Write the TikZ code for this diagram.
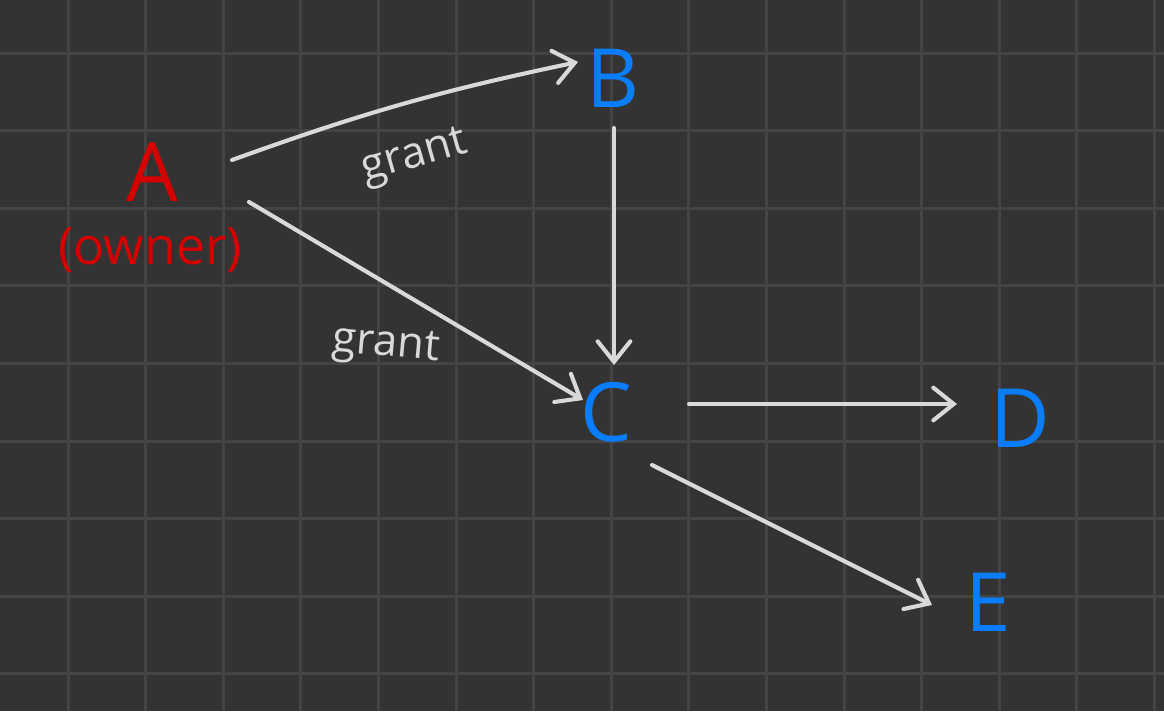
\documentclass[tikz,border=0pt]{standalone}
\usepackage{fontspec}
\setmainfont{Open Sans}
\usetikzlibrary{arrows.meta}
\usepackage{xcolor}
\definecolor{board}{HTML}{333333}
\definecolor{gridgray}{HTML}{444444}
\definecolor{chalk}{HTML}{D9D9D9}
\definecolor{ownerred}{HTML}{D40000}
\definecolor{userblue}{HTML}{0A7CFF}

\begin{document}
\begin{tikzpicture}[
    x=0.012887cm, y=-0.012887cm,
    gridline/.style={draw=gridgray, line width=1.1pt},
    owner/.style={text=ownerred, inner sep=0pt},
    user/.style={text=userblue, inner sep=0pt, font=\fontsize{30}{30}\selectfont},
    arrow/.style={draw=chalk, line width=1.5pt, line cap=round, -{Straight Barb[length=7.5pt, width=12pt, line cap=round]}},
    lbl/.style={text=chalk, font=\fontsize{16}{16}\selectfont}
]

\fill[board] (0,0) rectangle (1164,711);
\useasboundingbox (0,0) rectangle (1164,711);
\foreach \i in {0,...,14} \draw[gridline] ({68+77.6*\i},0) -- ({68+77.6*\i},711);
\foreach \j in {0,...,8} \draw[gridline] (0,{53+77.6*\j}) -- (1164,{53+77.6*\j});

\node[owner, font=\fontsize{30}{30}\selectfont] (A) at (152,172) {A};
\node[owner, font=\fontsize{19}{19}\selectfont] (ownerlbl) at (150,250) {(owner)};
\node[user] (B) at (613,78) {B};
\node[user] (C) at (606,412) {C};
\node[user] (D) at (1020,418) {D};
\node[user] (E) at (988,602) {E};

\draw[arrow] ([shift={(80,-12)}]A.center) to[bend left=4] node[lbl, sloped, pos=0.49, below=9pt] (grantab) {grant} ([shift={(-35,-16)}]B.center);
\draw[arrow] ([shift={(97,30)}]A.center) -- node[lbl, pos=0.41, yshift=-0.82cm, rotate=-5] (grantac) {grant} ([shift={(-23,-12)}]C.center);
\draw[arrow] ([shift={(1,50)}]B.center) -- ([shift={(8,-47)}]C.center);
\draw[arrow] ([shift={(83,-8)}]C.center) -- ([shift={(-63,-14)}]D.center);
\draw[arrow] ([shift={(46,53)}]C.center) -- ([shift={(-56,3)}]E.center);

\end{tikzpicture}
\end{document}
